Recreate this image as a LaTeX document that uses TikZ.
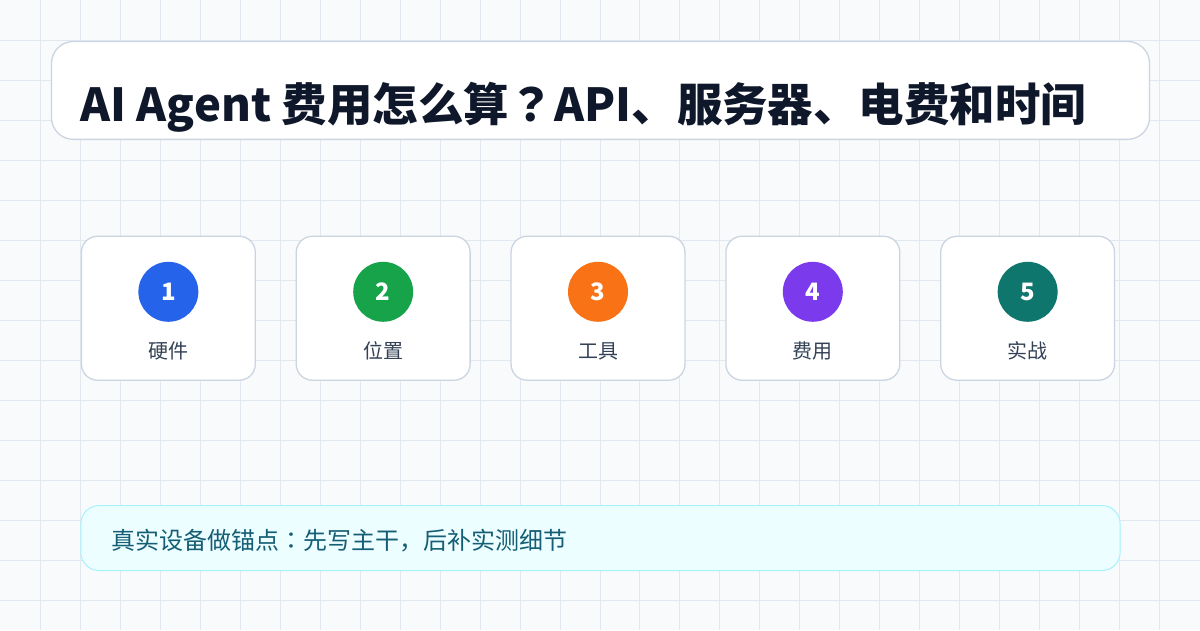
\documentclass[tikz,border=0pt]{standalone}
\usepackage{fontspec}
\setmainfont{Noto Sans CJK SC}
\newfontfamily\jpfont{Noto Sans CJK JP}
\newcommand{\jp}[1]{{\jpfont #1}}
\usetikzlibrary{positioning}
\definecolor{PageBg}{HTML}{F8FAFC}
\definecolor{GridLine}{HTML}{E2E8F0}
\definecolor{BoxLine}{HTML}{CBD5E1}
\definecolor{Ink}{HTML}{0F172A}
\definecolor{LabelInk}{HTML}{334155}
\definecolor{CBlue}{HTML}{2563EB}
\definecolor{CGreen}{HTML}{16A34A}
\definecolor{COrange}{HTML}{F97316}
\definecolor{CPurple}{HTML}{7C3AED}
\definecolor{CTeal}{HTML}{0F766E}
\definecolor{NoteFill}{HTML}{ECFEFF}
\definecolor{NoteLine}{HTML}{A5F3FC}
\definecolor{NoteInk}{HTML}{155E75}

\begin{document}
\begin{tikzpicture}[
    x=1pt, y=-1pt,
    gridline/.style={GridLine, line width=1pt},
    card/.style={rectangle, rounded corners=16pt, draw=BoxLine, line width=1.3pt, fill=white, minimum width=174pt, minimum height=144pt, inner sep=0pt},
    badge/.style={circle, minimum size=60pt, inner sep=0pt, text=white, font=\fontsize{24}{28}\selectfont\bfseries},
    cardlabel/.style={text=LabelInk, font=\fontsize{20}{24}\selectfont, inner sep=0pt}
]
% Background and grid
\fill[PageBg] (0,0) rectangle (1200,630);
\foreach \gx in {40,80,...,1160} \draw[gridline] (\gx,0) -- (\gx,630);
\foreach \gy in {40,80,...,600} \draw[gridline] (0,\gy) -- (1200,\gy);
\useasboundingbox (0,0) rectangle (1200,630);

% Title
\node[rectangle, rounded corners=22pt, draw=BoxLine, line width=1.3pt, fill=white, minimum width=1099pt, minimum height=98pt, inner sep=0pt] (title) at (600.5,90) {};
\node[anchor=base west, inner sep=0pt, text=Ink, font=\fontsize{45.5}{52}\selectfont\bfseries] (titletext) at (80,121) {AI Agent 费用怎么算\jp{？}API、服务器、电费和时间};

% Five cards
\node[card] (card1) at (168,308) {};
\node[card, right=39.7pt of card1] (card2) {};
\node[card, right=39.7pt of card2] (card3) {};
\node[card, right=39.7pt of card3] (card4) {};
\node[card, right=39.7pt of card4] (card5) {};

% Badges
\node[badge, fill=CBlue, below=26pt of card1.north] (b1) {1};
\node[badge, fill=CGreen, below=26pt of card2.north] (b2) {2};
\node[badge, fill=COrange, below=26pt of card3.north] (b3) {3};
\node[badge, fill=CPurple, below=26pt of card4.north] (b4) {4};
\node[badge, fill=CTeal, below=26pt of card5.north] (b5) {5};

% Labels
\node[cardlabel, anchor=base] (l1) at (card1.center |- 0,358) {硬件};
\node[cardlabel, anchor=base] (l2) at (card2.center |- 0,358) {位置};
\node[cardlabel, anchor=base] (l3) at (card3.center |- 0,358) {工具};
\node[cardlabel, anchor=base] (l4) at (card4.center |- 0,358) {费用};
\node[cardlabel, anchor=base] (l5) at (card5.center |- 0,358) {实战};

% Note
\node[rectangle, rounded corners=18pt, draw=NoteLine, line width=1pt, fill=NoteFill, minimum width=1040pt, minimum height=65pt, inner sep=0pt] (note) at (600.5,538) {};
\node[anchor=base west, inner sep=0pt, text=NoteInk, font=\fontsize{24}{28}\selectfont] (notetext) at (111,549) {真实设备做锚点\jp{：}先写主干\jp{，}后补实测细节};
\end{tikzpicture}
\end{document}
